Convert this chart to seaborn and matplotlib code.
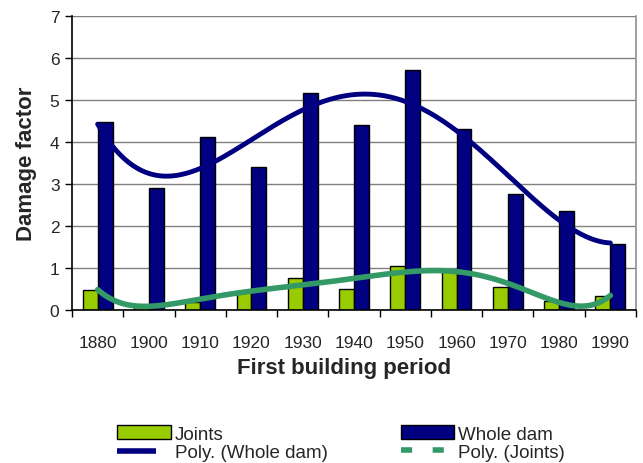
import numpy as np
import pandas as pd
import matplotlib
matplotlib.use("Agg")
import matplotlib.pyplot as plt
import seaborn as sns
from matplotlib.patches import Patch
from matplotlib.lines import Line2D
from matplotlib.legend_handler import HandlerBase

periods = ["1880", "1900", "1910", "1920", "1930", "1940", "1950", "1960", "1970", "1980", "1990"]
joints = [0.48, 0.12, 0.20, 0.45, 0.76, 0.50, 1.04, 0.95, 0.55, 0.22, 0.34]
whole_dam = [4.48, 2.90, 4.12, 3.40, 5.17, 4.40, 5.71, 4.30, 2.76, 2.36, 1.57]
order_whole = 4
order_joints = 6

df = pd.DataFrame({
    "period": periods * 2,
    "value": joints + whole_dam,
    "series": ["Joints"] * len(periods) + ["Whole dam"] * len(periods),
})

sns.set_style("white")
plt.rcParams["font.family"] = ["Liberation Sans", "DejaVu Sans"]

fig = plt.figure(figsize=(6.43, 4.64), dpi=100)
ax = fig.add_axes([72/643, 1-311/464, (636-72)/643, (311-17)/464])

sns.barplot(data=df, x="period", y="value", hue="series",
            palette={"Joints": "#99CC00", "Whole dam": "#000080"},
            width=0.58, edgecolor="black", linewidth=1, ax=ax, legend=False,
            saturation=1, zorder=2)

idx = np.arange(1, len(periods) + 1)
xs = np.linspace(1, len(periods), 300)
cw = np.polyval(np.polyfit(idx, whole_dam, order_whole), xs)
cj = np.polyval(np.polyfit(idx, joints, order_joints), xs)
ax.plot(xs - 1, cw, color="#000080", lw=3.5, zorder=3, solid_capstyle="round")
ax.plot(xs - 1, cj, color="#339966", lw=4, zorder=3, solid_capstyle="round")

ax.set_xlim(-0.5, len(periods) - 0.5)
ax.set_ylim(0, 7)
ax.set_yticks(range(0, 8))
ax.yaxis.grid(True, color="#808080", lw=1)
ax.set_axisbelow(True)
ax.set_xticks(np.arange(-0.5, len(periods), 1), minor=False)
ax.set_xticklabels([])
ax.set_xticks(np.arange(len(periods)), minor=True)
ax.set_xticklabels(periods, minor=True)
ax.tick_params(axis="x", which="major", length=5, width=1, color="black", direction="out")
ax.tick_params(axis="x", which="minor", length=0, labelsize=12.5, pad=18)
ax.tick_params(axis="y", length=5, width=1, color="black", direction="out", labelsize=12.5, pad=4)
ax.tick_params(left=True, bottom=True)

for s in ["left", "bottom"]:
    ax.spines[s].set_color("black")
    ax.spines[s].set_linewidth(1.2)
ax.spines["top"].set_visible(False)
ax.spines["right"].set_color("#909090")
ax.spines["right"].set_linewidth(1.2)

ax.set_xlabel("First building period", fontsize=16, fontweight="bold", labelpad=5)
ax.xaxis.label.set_x(0.482)
ax.set_ylabel("Damage factor", fontsize=16, fontweight="bold", labelpad=9)


class ShortLine(HandlerBase):
    def __init__(self, frac=0.72, **kw):
        super().__init__(**kw)
        self.frac = frac

    def create_artists(self, legend, orig_handle, xdescent, ydescent, width, height, fontsize, trans):
        y = height / 2 - ydescent
        ln = Line2D([-xdescent, -xdescent + width * self.frac], [y, y],
                    color=orig_handle.get_color(), lw=orig_handle.get_linewidth(),
                    solid_capstyle="butt", transform=trans)
        return [ln]


poly_whole = Line2D([0], [0], color="#000080", lw=4, label="Poly. (Whole dam)")
handles = [
    Patch(facecolor="#99CC00", edgecolor="black", label="Joints"),
    poly_whole,
    Patch(facecolor="#000080", edgecolor="black", label="Whole dam"),
    Line2D([0], [0], color="#339966", lw=4, ls=(0, (2, 3.7)), dash_capstyle="butt",
           label="Poly. (Joints)"),
]
fig.legend(handles=handles, ncol=2, loc="upper left", bbox_to_anchor=(108/643, 1-417/464),
           frameon=False, fontsize=13.5, handlelength=2.85, handleheight=0.75,
           columnspacing=3.9, labelspacing=0.05, handletextpad=0.22, borderpad=0,
           handler_map={poly_whole: ShortLine(0.72)})

fig.savefig("out.png", dpi=100)
